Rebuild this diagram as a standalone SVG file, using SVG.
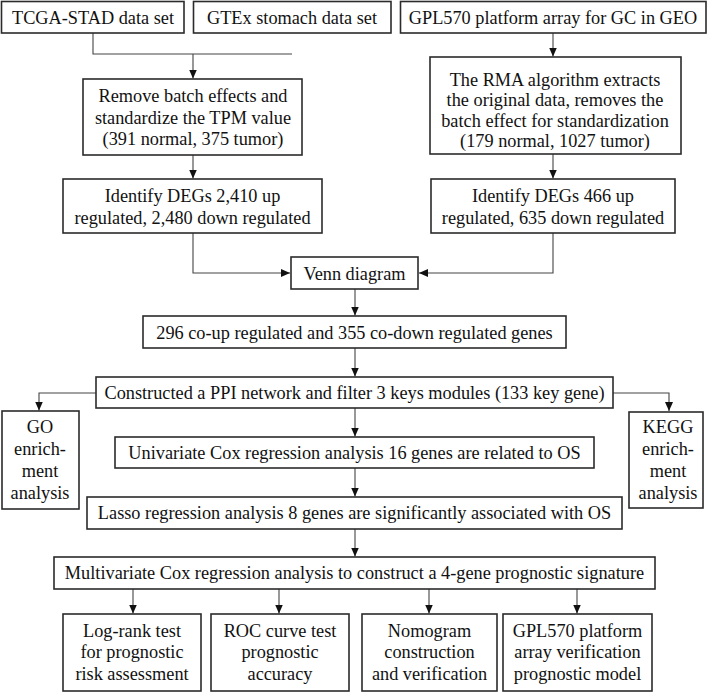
<svg xmlns="http://www.w3.org/2000/svg" width="709" height="692" viewBox="0 0 709 692">
<style>
.box{fill:#fff;stroke:#2b2b2b;stroke-width:1.6}
.t{font-size:18.3px;fill:#111;text-anchor:middle}
.c{fill:none;stroke:#444;stroke-width:1.1}
</style>
<defs>
<marker id="ah" markerUnits="userSpaceOnUse" markerWidth="10" markerHeight="10" viewBox="0 0 10 10" refX="9" refY="5" orient="auto">
<path d="M0,1 L9,5 L0,9 Z" fill="#111"/>
</marker>
</defs>
<rect width="709" height="692" fill="#fff"/>
<g id="connectors">
<path class="c" d="M93,33 V54 H292 M193,54 V78.5" marker-end="url(#ah)"/>
<path class="c" d="M193,155 V178.5" marker-end="url(#ah)"/>
<path class="c" d="M553,33 V56.5" marker-end="url(#ah)"/>
<path class="c" d="M553,154 V178.5" marker-end="url(#ah)"/>
<path class="c" d="M193,233 V273 H290" marker-end="url(#ah)"/>
<path class="c" d="M553,233 V273 H419" marker-end="url(#ah)"/>
<path class="c" d="M355,289 V315.5" marker-end="url(#ah)"/>
<path class="c" d="M355,348 V376.5" marker-end="url(#ah)"/>
<path class="c" d="M96,393 H39 V410.5" marker-end="url(#ah)"/>
<path class="c" d="M613,393 H669 V411" marker-end="url(#ah)"/>
<path class="c" d="M355,408 V436.5" marker-end="url(#ah)"/>
<path class="c" d="M355,468 V496.5" marker-end="url(#ah)"/>
<path class="c" d="M355,529 V556.5" marker-end="url(#ah)"/>
<path class="c" d="M133,589 V613.5" marker-end="url(#ah)"/>
<path class="c" d="M279,589 V613.5" marker-end="url(#ah)"/>
<path class="c" d="M429,589 V613.5" marker-end="url(#ah)"/>
<path class="c" d="M577,589 V613.5" marker-end="url(#ah)"/>
</g>
<g font-family="Liberation Serif">
<g id="tcga"><rect class="box" x="1.5" y="1.5" width="182.5" height="31.5"/><text class="t" x="93" y="24">TCGA-STAD data set</text></g>
<g id="gtex"><rect class="box" x="193.5" y="1.5" width="197.5" height="31.5"/><text class="t" x="292" y="24">GTEx stomach data set</text></g>
<g id="gpl570"><rect class="box" x="400.5" y="1.5" width="305.5" height="31.5"/><text class="t" x="553" y="24">GPL570 platform array for GC in GEO</text></g>
<g id="remove"><rect class="box" x="83" y="79" width="219" height="76"/>
<text class="t" x="193" y="102">Remove batch effects and</text>
<text class="t" x="193" y="123.5">standardize the TPM value</text>
<text class="t" x="193" y="145">(391 normal, 375 tumor)</text></g>
<g id="rma"><rect class="box" x="430" y="57" width="251" height="97"/>
<text class="t" x="555" y="85.5">The RMA algorithm extracts</text>
<text class="t" x="555" y="106">the original data, removes the</text>
<text class="t" x="555" y="126.5">batch effect for standardization</text>
<text class="t" x="555" y="147">(179 normal, 1027 tumor)</text></g>
<g id="deg-left"><rect class="box" x="63" y="179" width="259" height="54"/>
<text class="t" x="192.5" y="202">Identify DEGs 2,410 up</text>
<text class="t" x="192.5" y="223.5">regulated, 2,480 down regulated</text></g>
<g id="deg-right"><rect class="box" x="431" y="179" width="244" height="54"/>
<text class="t" x="553" y="202">Identify DEGs 466 up</text>
<text class="t" x="553" y="223.5">regulated, 635 down regulated</text></g>
<g id="venn"><rect class="box" x="291" y="257" width="127" height="32"/><text class="t" x="354.5" y="280">Venn diagram</text></g>
<g id="co"><rect class="box" x="143" y="316" width="423" height="32"/><text class="t" x="354.5" y="338.5">296 co-up regulated and 355 co-down regulated genes</text></g>
<g id="ppi"><rect class="box" x="96" y="377" width="517" height="31"/><text class="t" x="354.5" y="398.5">Constructed a PPI network and filter 3 keys modules (133 key gene)</text></g>
<g id="go"><rect class="box" x="2" y="411" width="77" height="98"/>
<text class="t" x="40" y="433">GO</text><text class="t" x="40" y="455">enrich-</text><text class="t" x="40" y="477">ment</text><text class="t" x="40" y="498.5">analysis</text></g>
<g id="kegg"><rect class="box" x="629" y="412" width="74" height="96"/>
<text class="t" x="668" y="433">KEGG</text><text class="t" x="668" y="455">enrich-</text><text class="t" x="668" y="477">ment</text><text class="t" x="668" y="498.5">analysis</text></g>
<g id="univariate"><rect class="box" x="115" y="437" width="479" height="31"/><text class="t" x="354.5" y="458.5">Univariate Cox regression analysis 16 genes are related to OS</text></g>
<g id="lasso"><rect class="box" x="87" y="497" width="535" height="32"/><text class="t" x="354.5" y="519">Lasso regression analysis 8 genes are significantly associated with OS</text></g>
<g id="multivariate"><rect class="box" x="54" y="557" width="601" height="32"/><text class="t" x="354.5" y="579">Multivariate Cox regression analysis to construct a 4-gene prognostic signature</text></g>
<g id="logrank"><rect class="box" x="63" y="614" width="138" height="77"/>
<text class="t" x="132" y="636.5">Log-rank test</text><text class="t" x="132" y="658">for prognostic</text><text class="t" x="132" y="680">risk assessment</text></g>
<g id="roc"><rect class="box" x="211" y="614" width="138" height="77"/>
<text class="t" x="280" y="636.5">ROC curve test</text><text class="t" x="280" y="658">prognostic</text><text class="t" x="280" y="680">accuracy</text></g>
<g id="nomogram"><rect class="box" x="362" y="614" width="135" height="77"/>
<text class="t" x="429.5" y="636.5">Nomogram</text><text class="t" x="429.5" y="658">construction</text><text class="t" x="429.5" y="680">and verification</text></g>
<g id="gplverify"><rect class="box" x="503" y="614" width="149" height="77"/>
<text class="t" x="577.5" y="636.5">GPL570 platform</text><text class="t" x="577.5" y="658">array verification</text><text class="t" x="577.5" y="680">prognostic model</text></g>
</g>
</svg>
